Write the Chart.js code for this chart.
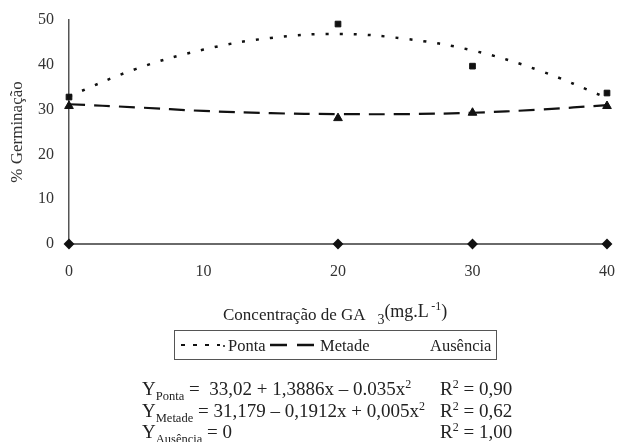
<!DOCTYPE html>
<html>
<head>
<meta charset="utf-8">
<script src="https://cdn.jsdelivr.net/npm/chart.js@4.4.0/dist/chart.umd.min.js"></script>
<style>
    body { margin: 0; background: #fff; }
    #wrap { position: relative; width: 617px; height: 442px; overflow: hidden; font-family: "Liberation Serif", "Times New Roman", serif; color: #222; }
    canvas { position: absolute; left: 0; top: 0; }
    .txt { position: absolute; white-space: nowrap; line-height: 1; }
    .txt sub, .txt sup { line-height: 0; }
    #xtitle { left: 223px; top: 305px; font-size: 17px; }
    #legend { left: 174px; top: 330px; width: 321px; height: 28px; border: 1px solid #555; font-size: 16.5px; }
    #legend span { position: absolute; top: 7px; }
    #legend svg { position: absolute; top: 0; left: 0; }
    .eq { font-size: 19px; }
    .eq sub { font-size: 12.5px; }
    .eq sup { font-size: 12px; }
</style>
</head>
<body>
<div id="wrap">
    <canvas id="chart" width="617" height="442"></canvas>
    <div id="xtitle" class="txt">Concentração de GA &nbsp;&nbsp;<sub style="font-size:14px">3</sub><span style="position:relative;top:-3px;font-size:18px">(mg.L<sup style="font-size:12px">&thinsp;-1</sup>)</span></div>
    <div id="legend" class="txt">
        <svg width="321" height="28">
            <line x1="6" y1="14" x2="45" y2="14" stroke="#111" stroke-width="2" stroke-dasharray="4,8"/>
            <line x1="48" y1="15" x2="50" y2="15" stroke="#111" stroke-width="1.5"/>
            <line x1="95" y1="14" x2="139" y2="14" stroke="#111" stroke-width="2.5" stroke-dasharray="17,10"/>
        </svg>
        <span style="left:53px">Ponta</span>
        <span style="left:145px">Metade</span>
        <span style="left:255px">Ausência</span>
    </div>
    <div class="txt eq" style="left:142px;top:379px">Y<sub>Ponta</sub> = &nbsp;33,02 + 1,3886x – 0.035x<sup>2</sup></div>
    <div class="txt eq" style="left:142px;top:401px">Y<sub>Metade</sub> = 31,179 – 0,1912x + 0,005x<sup>2</sup></div>
    <div class="txt eq" style="left:142px;top:422px">Y<sub>Ausência</sub> = 0</div>
    <div class="txt eq" style="left:440px;top:379px">R<sup>2</sup> = 0,90</div>
    <div class="txt eq" style="left:440px;top:401px">R<sup>2</sup> = 0,62</div>
    <div class="txt eq" style="left:440px;top:422px">R<sup>2</sup> = 1,00</div>
</div>
<script>
// valores
const concentracoes = [0, 20, 30, 40];
const ponta = [32.8, 49.1, 39.7, 33.7];
const metade = [30.8, 28.1, 29.3, 30.8];
const ausencia = [0, 0, 0, 0];

// linhas de tendência
const tendenciaX = [0, 5, 10, 15, 20, 25, 30, 35, 40];
const pontaTendencia = [33.0, 39.1, 43.4, 46.0, 46.9, 45.8, 43.2, 38.7, 32.6];
const metadeTendencia = [31.2, 30.5, 29.7, 29.2, 29.0, 29.0, 29.3, 30.0, 31.0];

const yTicks = [0, 10, 20, 30, 40, 50];
const xTicks = [0, 10, 20, 30, 40];

function pares(xs, ys) {
    return xs.map((x, i) => ({ x: x, y: ys[i] }));
}

const ctx = document.getElementById("chart").getContext("2d");
new Chart(ctx, {
    type: "scatter",
    data: {
        datasets: [
            {
                label: "Ausência",
                data: pares(concentracoes, ausencia),
                showLine: true,
                borderColor: "#6a6a6a",
                borderWidth: 2,
                pointStyle: "rectRot",
                pointRadius: 4,
                backgroundColor: "#111",
                pointBorderColor: "#111",
            },
            {
                label: "Ponta tendência",
                data: pares(tendenciaX, pontaTendencia),
                showLine: true,
                borderColor: "#111",
                borderWidth: 2.5,
                borderDash: [3, 11],
                tension: 0.4,
                pointRadius: 0,
            },
            {
                label: "Metade tendência",
                data: pares(tendenciaX, metadeTendencia),
                showLine: true,
                borderColor: "#111",
                borderWidth: 2.2,
                borderDash: [16, 9],
                tension: 0.4,
                pointRadius: 0,
            },
            {
                label: "Ponta",
                data: pares(concentracoes, ponta),
                pointStyle: "rect",
                pointRadius: 4,
                backgroundColor: "#111",
                borderColor: "#111",
            },
            {
                label: "Metade",
                data: pares(concentracoes, metade),
                pointStyle: "triangle",
                pointRadius: 5,
                backgroundColor: "#111",
                borderColor: "#111",
            },
        ],
    },
    options: {
        responsive: false,
        animation: false,
        clip: false,
        layout: { padding: { top: 20, right: 10, left: 0, bottom: 0 } },
        plugins: {
            legend: { display: false },
            tooltip: { enabled: false },
        },
        scales: {
            x: {
                type: "linear",
                min: 0,
                max: 40,
                afterBuildTicks: (scale) => { scale.ticks = xTicks.map((v) => ({ value: v })); },
                afterFit: (scale) => {
                    scale.height = 198;
                    scale.paddingLeft = 0;
                    scale.paddingRight = 0;
                },
                grid: { display: false, drawTicks: true, tickLength: 5, tickColor: "#555" },
                border: { color: "#6a6a6a", width: 2 },
                ticks: {
                    color: "#333",
                    padding: 13,
                    font: { family: "Liberation Serif", size: 16 },
                },
            },
            y: {
                min: 0,
                max: 50,
                afterBuildTicks: (scale) => { scale.ticks = yTicks.map((v) => ({ value: v })); },
                afterFit: (scale) => {
                    scale.width = 69;
                    scale.paddingTop = 0;
                    scale.paddingBottom = 0;
                },
                grid: { display: false, drawTicks: true, tickLength: 7, tickColor: "#555" },
                border: { color: "#555", width: 1.5 },
                ticks: {
                    color: "#333",
                    padding: 8,
                    font: { family: "Liberation Serif", size: 16 },
                },
                title: {
                    display: true,
                    text: "% Germinação",
                    color: "#333",
                    padding: { top: 7, bottom: 0 },
                    font: { family: "Liberation Serif", size: 17 },
                },
            },
        },
    },
});
</script>
</body>
</html>
